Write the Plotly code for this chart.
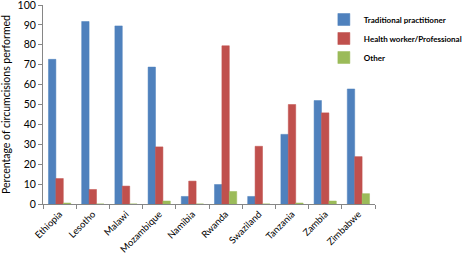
import plotly.graph_objects as go

countries = ["Ethiopia", "Lesotho", "Malawi", "Mozambique", "Namibia",
             "Rwanda", "Swaziland", "Tanzania", "Zambia", "Zimbabwe"]
traditional = [72.7, 91.7, 89.5, 68.8, 3.8, 9.8, 3.8, 35.0, 52.0, 57.8]
health = [12.8, 7.3, 9.0, 28.7, 11.5, 79.5, 29.0, 50.0, 45.8, 23.8]
other = [0.5, 0.0, 0.0, 1.5, 0.0, 6.3, 0.0, 0.5, 1.5, 5.2]
series_names = ["Traditional practitioner", "Health worker/Professional", "Other"]
colors = ["#4F81BD", "#C0504D", "#9BBB59"]
y_ticks = list(range(0, 101, 10))

fig = go.Figure()
for name, vals, col in zip(series_names, [traditional, health, other], colors):
    fig.add_trace(go.Bar(x=countries, y=vals, name=name,
                         marker=dict(color=col, line=dict(color=col, width=0.5))))

font = "Lato, Open Sans, sans-serif"
fig.update_layout(
    width=472, height=255,
    margin=dict(l=43, r=45, t=5, b=51),
    barmode="group", bargap=0.33, bargroupgap=0,
    plot_bgcolor="white", paper_bgcolor="white",
    font=dict(family=font, size=10, color="#000000"),
    legend=dict(x=0.846, y=1.0, xanchor="left", yanchor="top",
                font=dict(size=8, family=font, weight="bold"), bgcolor="rgba(0,0,0,0)",
                itemwidth=30, tracegroupgap=0, traceorder="normal"),
    showlegend=True,
)
fig.update_xaxes(showline=True, linecolor="#868686", linewidth=1, automargin=False,
                 ticks="outside", tickson="boundaries", ticklen=4, tickcolor="#868686",
                 tickangle=-45, tickfont=dict(size=9.5), showgrid=False)
fig.update_yaxes(range=[0, 100], tickvals=y_ticks, showline=True, linecolor="#868686",
                 linewidth=1, ticks="outside", ticklen=4, tickcolor="#868686", automargin=False,
                 showgrid=False, zeroline=False, tickfont=dict(size=10.5),
                 ticklabeloverflow="allow",
                 title=dict(text="Percentage of circumcisions performed",
                            font=dict(size=10.5), standoff=8))
fig.write_html("out.html", config={"displayModeBar": False},
               post_script="document.body.style.margin='0';")
